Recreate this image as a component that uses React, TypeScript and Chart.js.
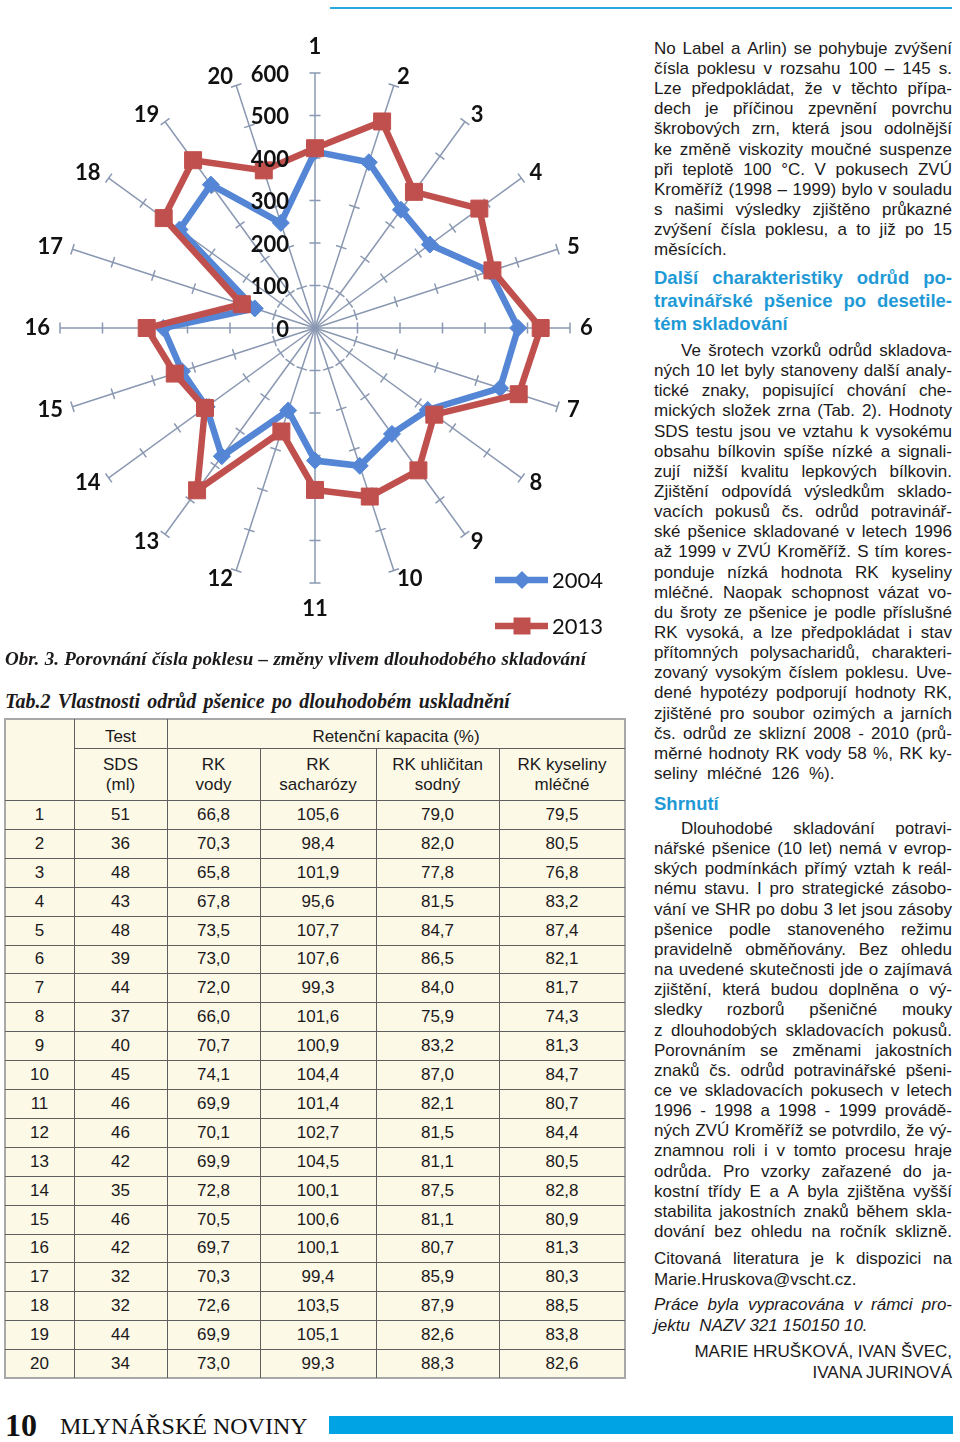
import React, { useEffect, useRef } from "react";
import { Chart, registerables } from "chart.js";

Chart.register(...registerables);

// ---------- chart data ----------
const axisLabels = ["1", "2", "3", "4", "5", "6", "7", "8", "9", "10", "11", "12", "13", "14", "15", "16", "17", "18", "19", "20"];
const series2004 = [415, 410, 344, 334, 432, 478, 458, 328, 308, 341, 312, 204, 373, 316, 329, 357, 149, 394, 417, 260];
const series2013 = [423, 511, 396, 478, 439, 531, 504, 347, 414, 417, 381, 256, 472, 320, 347, 396, 181, 440, 488, 390];
const radialTicks = [0, 100, 200, 300, 400, 500, 600];
const legendLabels = ["2004", "2013"];

// ---------- table data ----------
const varieties = ["1", "2", "3", "4", "5", "6", "7", "8", "9", "10", "11", "12", "13", "14", "15", "16", "17", "18", "19", "20"];
const sdsValues = ["51", "36", "48", "43", "48", "39", "44", "37", "40", "45", "46", "46", "42", "35", "46", "42", "32", "32", "44", "34"];
const rkVody = ["66,8", "70,3", "65,8", "67,8", "73,5", "73,0", "72,0", "66,0", "70,7", "74,1", "69,9", "70,1", "69,9", "72,8", "70,5", "69,7", "70,3", "72,6", "69,9", "73,0"];
const rkSacharozy = ["105,6", "98,4", "101,9", "95,6", "107,7", "107,6", "99,3", "101,6", "100,9", "104,4", "101,4", "102,7", "104,5", "100,1", "100,6", "100,1", "99,4", "103,5", "105,1", "99,3"];
const rkUhlicitan = ["79,0", "82,0", "77,8", "81,5", "84,7", "86,5", "84,0", "75,9", "83,2", "87,0", "82,1", "81,5", "81,1", "87,5", "81,1", "80,7", "85,9", "87,9", "82,6", "88,3"];
const rkKyseliny = ["79,5", "80,5", "76,8", "83,2", "87,4", "82,1", "81,7", "74,3", "81,3", "84,7", "80,7", "84,4", "80,5", "82,8", "80,9", "81,3", "80,3", "88,5", "83,8", "82,6"];

// ---------- text ----------
const paraA = [
  "No Label a Arlin) se pohybuje zvýšení",
  "čísla poklesu v rozsahu 100 – 145 s.",
  "Lze předpokládat, že v těchto přípa-",
  "dech je příčinou zpevnění povrchu",
  "škrobových zrn, která jsou odolnější",
  "ke změně viskozity moučné suspenze",
  "při teplotě 100 °C. V pokusech ZVÚ",
  "Kroměříž (1998 – 1999) bylo v souladu",
  "s našimi výsledky zjištěno průkazné",
  "zvýšení čísla poklesu, a to již po 15",
  "měsících.",
];
const headingB = ["Další charakteristiky odrůd po-", "travinářské pšenice po desetile-", "tém skladování"];
const paraB = [
  "Ve šrotech vzorků odrůd skladova-",
  "ných 10 let byly stanoveny další analy-",
  "tické znaky, popisující chování che-",
  "mických složek zrna (Tab. 2). Hodnoty",
  "SDS testu jsou ve vztahu k vysokému",
  "obsahu bílkovin spíše nízké a signali-",
  "zují nižší kvalitu lepkových bílkovin.",
  "Zjištění odpovídá výsledkům sklado-",
  "vacích pokusů čs. odrůd potravinář-",
  "ské pšenice skladované v letech 1996",
  "až 1999 v ZVÚ Kroměříž. S tím kores-",
  "ponduje nízká hodnota RK kyseliny",
  "mléčné. Naopak schopnost vázat vo-",
  "du šroty ze pšenice je podle příslušné",
  "RK vysoká, a lze předpokládat i stav",
  "přítomných polysacharidů, charakteri-",
  "zovaný vysokým číslem poklesu. Uve-",
  "dené hypotézy podporují hodnoty RK,",
  "zjištěné pro soubor ozimých a jarních",
  "čs. odrůd ze sklizní 2008 - 2010 (prů-",
  "měrné hodnoty RK vody 58 %, RK ky-",
  "seliny  mléčné  126  %).",
];
const paraC = [
  "Dlouhodobé skladování potravi-",
  "nářské pšenice (10 let) nemá v evrop-",
  "ských podmínkách přímý vztah k reál-",
  "nému stavu. I pro strategické zásobo-",
  "vání ve SHR po dobu 3 let jsou zásoby",
  "pšenice podle stanoveného režimu",
  "pravidelně obměňovány. Bez ohledu",
  "na uvedené skutečnosti jde o zajímavá",
  "zjištění, která budou doplněna o vý-",
  "sledky rozborů pšeničné mouky",
  "z dlouhodobých skladovacích pokusů.",
  "Porovnáním se změnami jakostních",
  "znaků čs. odrůd potravinářské pšeni-",
  "ce ve skladovacích pokusech v letech",
  "1996 - 1998 a 1998 - 1999 provádě-",
  "ných ZVÚ Kroměříž se potvrdilo, že vý-",
  "znamnou roli i v tomto procesu hraje",
  "odrůda. Pro vzorky zařazené do ja-",
  "kostní třídy E a A byla zjištěna vyšší",
  "stabilita jakostních znaků během skla-",
  "dování bez ohledu na ročník sklizně.",
];
const paraD = ["Citovaná literatura je k dispozici na", "Marie.Hruskova@vscht.cz."];
const paraE = ["Práce byla vypracována v rámci pro-", "jektu  NAZV 321 150150 10."];
const authors = ["MARIE HRUŠKOVÁ, IVAN ŠVEC,", "IVANA JURINOVÁ"];

const COLOR_2004 = "#5586d6";
const COLOR_2013 = "#c0504d";
const SPOKE = "#8a98b2";
const CHART_FONT = "Lato, 'Open Sans', sans-serif";

const decorPlugin = {
  id: "radarDecor",
  beforeDatasetsDraw(chart: any) {
    const s = chart.scales.r;
    const ctx = chart.ctx;
    ctx.save();
    ctx.strokeStyle = SPOKE;
    ctx.lineWidth = 1.5;
    for (let i = 0; i < axisLabels.length; i++) {
      for (const v of radialTicks) {
        if (v === 0) continue;
        const p = s.getPointPosition(i, s.getDistanceFromCenterForValue(v));
        const nx = -Math.sin(p.angle);
        const ny = Math.cos(p.angle);
        ctx.beginPath();
        ctx.moveTo(p.x - nx * 5.5, p.y - ny * 5.5);
        ctx.lineTo(p.x + nx * 5.5, p.y + ny * 5.5);
        ctx.stroke();
      }
    }
    ctx.restore();
  },
  afterDatasetsDraw(chart: any) {
    const s = chart.scales.r;
    const ctx = chart.ctx;
    ctx.save();
    // radial tick labels
    ctx.fillStyle = "#111";
    ctx.font = `bold 22px ${CHART_FONT}`;
    ctx.textAlign = "right";
    ctx.textBaseline = "middle";
    for (const v of radialTicks) {
      const y = s.yCenter - s.getDistanceFromCenterForValue(v) + 1.5;
      ctx.fillText(String(v), s.xCenter - 26, y);
    }
    // category labels
    ctx.textAlign = "center";
    for (let i = 0; i < axisLabels.length; i++) {
      const a = s.getIndexAngle(i);
      const sin = Math.sin(a);
      const cos = Math.cos(a);
      const end = s.getPointPosition(i, s.drawingArea);
      const w = ctx.measureText(axisLabels[i]).width;
      let dx = 0;
      let dy = 0;
      if (Math.abs(sin) < 0.01) {
        dy = cos > 0 ? -26 : 26;
      } else {
        dx = Math.sign(sin) * (w / 2 + 10 * Math.abs(sin));
        dy = -cos * 9;
      }
      ctx.fillText(axisLabels[i], end.x + dx, end.y + dy);
    }
    // legend
    const items = [
      { label: legendLabels[0], color: COLOR_2004, style: "diamond", y: 580 },
      { label: legendLabels[1], color: COLOR_2013, style: "square", y: 626 },
    ];
    for (const it of items) {
      ctx.strokeStyle = it.color;
      ctx.fillStyle = it.color;
      ctx.lineWidth = 6.5;
      ctx.beginPath();
      ctx.moveTo(495, it.y);
      ctx.lineTo(548, it.y);
      ctx.stroke();
      ctx.beginPath();
      if (it.style === "diamond") {
        ctx.moveTo(522, it.y - 9);
        ctx.lineTo(531, it.y);
        ctx.lineTo(522, it.y + 9);
        ctx.lineTo(513, it.y);
        ctx.closePath();
      } else {
        ctx.rect(513.5, it.y - 8.5, 17, 17);
      }
      ctx.fill();
      ctx.fillStyle = "#111";
      ctx.font = `22px ${CHART_FONT}`;
      ctx.textAlign = "left";
      ctx.fillText(it.label, 552, it.y + 1);
    }
    ctx.restore();
  },
};

function RadarChart() {
  const ref = useRef<HTMLCanvasElement | null>(null);
  useEffect(() => {
    if (!ref.current) return;
    const chart = new Chart(ref.current, {
      type: "radar",
      data: {
        labels: axisLabels,
        datasets: [
          {
            label: legendLabels[0],
            data: series2004,
            borderColor: COLOR_2004,
            backgroundColor: COLOR_2004,
            pointBackgroundColor: COLOR_2004,
            pointBorderColor: COLOR_2004,
            borderWidth: 6.5,
            pointStyle: "rectRot",
            pointRadius: 8.5,
            pointBorderWidth: 1,
            fill: false,
            order: 2,
          },
          {
            label: legendLabels[1],
            data: series2013,
            borderColor: COLOR_2013,
            backgroundColor: COLOR_2013,
            pointBackgroundColor: COLOR_2013,
            pointBorderColor: COLOR_2013,
            borderWidth: 6.5,
            pointStyle: "rect",
            pointRadius: 12,
            pointBorderWidth: 1,
            fill: false,
            order: 1,
          },
        ],
      },
      options: {
        animation: false,
        responsive: false,
        layout: { padding: { left: 60, right: 60, top: 73, bottom: 67 } },
        plugins: { legend: { display: false }, tooltip: { enabled: false } },
        elements: { line: { tension: 0 } },
        scales: {
          r: {
            min: 0,
            max: 600,
            ticks: { display: false, stepSize: 100 },
            grid: { display: false },
            angleLines: { display: true, color: SPOKE, lineWidth: 1.5 },
            pointLabels: { display: false },
          },
        },
      } as any,
      plugins: [decorPlugin],
    });
    return () => chart.destroy();
  }, []);
  return (
    <canvas
      ref={ref}
      width={630}
      height={650}
      style={{ position: "absolute", left: 0, top: 0, width: 630, height: 650 }}
    />
  );
}

const SANS = "'Liberation Sans', Arial, sans-serif";
const SERIF = "'Liberation Serif', 'Times New Roman', serif";
const TEXT_COLOR = "#1c1a1b";
const BLUE = "#1f9ad6";

function TextLine(props: {
  text: string;
  y: number;
  left: number;
  width: number;
  justify: boolean;
  lh?: number;
  style?: React.CSSProperties;
}) {
  const { text, y, left, width, justify, style } = props;
  const lh = props.lh ?? 20;
  const words = text.split(" ");
  return (
    <div
      style={{
        position: "absolute",
        left,
        top: y - lh / 2,
        width,
        height: lh,
        lineHeight: `${lh}px`,
        display: "flex",
        justifyContent: justify ? "space-between" : "flex-start",
        whiteSpace: "pre",
        ...style,
      }}
    >
      {justify ? words.map((w, i) => <span key={i}>{w}</span>) : <span>{text}</span>}
    </div>
  );
}

function Paragraph(props: {
  lines: string[];
  y0: number;
  pitch: number;
  indent?: number;
  lastJustified?: boolean;
  lh?: number;
  style?: React.CSSProperties;
}) {
  const { lines, y0, pitch, indent = 0, lastJustified = false, style, lh } = props;
  return (
    <>
      {lines.map((t, i) => {
        const last = i === lines.length - 1;
        const left = 654 + (i === 0 ? indent : 0);
        return (
          <TextLine
            key={i}
            text={t}
            y={y0 + i * pitch}
            left={left}
            width={952 - left}
            justify={!last || lastJustified}
            lh={lh}
            style={style}
          />
        );
      })}
    </>
  );
}

const colEdges = [5, 74, 167, 260, 376, 499, 625];
const TABLE_TOP = 719;
const HEAD1_BOTTOM = 748;
const HEAD_BOTTOM = 800;
const ROW_H = 28.9;
const TABLE_BOTTOM = HEAD_BOTTOM + ROW_H * 20;

function DataTable() {
  const line = "#5f5f5f";
  const cellStyle = (x0: number, x1: number, yc: number, h: number): React.CSSProperties => ({
    position: "absolute",
    left: x0,
    width: x1 - x0,
    top: yc - h / 2,
    height: h,
    lineHeight: "20px",
    textAlign: "center",
    display: "flex",
    flexDirection: "column",
    justifyContent: "center",
    alignItems: "center",
    fontFamily: SANS,
    fontSize: 17,
    color: TEXT_COLOR,
  });
  const cols = [varieties, sdsValues, rkVody, rkSacharozy, rkUhlicitan, rkKyseliny];
  const heads2 = [
    ["SDS", "(ml)"],
    ["RK", "vody"],
    ["RK", "sacharózy"],
    ["RK uhličitan", "sodný"],
    ["RK kyseliny", "mléčné"],
  ];
  const els: React.ReactNode[] = [];
  els.push(
    <div
      key="bg"
      style={{
        position: "absolute",
        left: colEdges[0] - 1,
        top: TABLE_TOP - 1,
        width: colEdges[6] - colEdges[0] + 2,
        height: TABLE_BOTTOM - TABLE_TOP + 2,
        background: "#fdf9e7",
        border: "2px solid #a8a8a8",
        boxSizing: "border-box",
      }}
    />
  );
  colEdges.slice(1, 6).forEach((x, i) => {
    const top = i < 2 ? TABLE_TOP : HEAD1_BOTTOM;
    els.push(
      <div key={"v" + i} style={{ position: "absolute", left: x, top, width: 1, height: TABLE_BOTTOM - top, background: line }} />
    );
  });
  els.push(
    <div key="h1" style={{ position: "absolute", left: colEdges[1], top: HEAD1_BOTTOM, width: colEdges[6] - colEdges[1], height: 1, background: line }} />
  );
  for (let r = 0; r < 20; r++) {
    els.push(
      <div key={"h" + (r + 2)} style={{ position: "absolute", left: colEdges[0], top: HEAD_BOTTOM + r * ROW_H, width: colEdges[6] - colEdges[0], height: 1, background: line }} />
    );
  }
  els.push(<div key="t1" style={cellStyle(colEdges[1], colEdges[2], 737, 26)}>Test</div>);
  els.push(<div key="t2" style={cellStyle(colEdges[2], colEdges[6], 737, 26)}>Retenční kapacita (%)</div>);
  heads2.forEach((h, i) => {
    els.push(
      <div key={"hh" + i} style={cellStyle(colEdges[i + 1], colEdges[i + 2], 775, 48)}>
        <span>{h[0]}</span>
        <span>{h[1]}</span>
      </div>
    );
  });
  for (let r = 0; r < 20; r++) {
    const yc = HEAD_BOTTOM + r * ROW_H + ROW_H / 2 + 0.5;
    cols.forEach((c, ci) => {
      els.push(
        <div key={`c${r}_${ci}`} style={cellStyle(colEdges[ci], colEdges[ci + 1], yc, 24)}>
          {c[r]}
        </div>
      );
    });
  }
  return <>{els}</>;
}

export default function App() {
  const bodyText: React.CSSProperties = { fontFamily: SANS, fontSize: 17, color: TEXT_COLOR };
  const headText: React.CSSProperties = { fontFamily: SANS, fontSize: 18.5, fontWeight: 700, color: BLUE };
  return (
    <div
      style={{
        position: "absolute",
        left: 0,
        top: 0,
        width: 960,
        height: 1442,
        background: "#fff",
        overflow: "hidden",
      }}
    >
      <div style={{ position: "absolute", left: 330, top: 7, width: 622, height: 2, background: "#2aa7dc" }} />

      <RadarChart />

      <TextLine
        text="Obr. 3. Porovnání čísla poklesu – změny vlivem dlouhodobého skladování"
        y={659}
        left={5}
        width={581}
        justify={true}
        lh={22}
        style={{ fontFamily: SERIF, fontSize: 19, fontWeight: 700, fontStyle: "italic", color: TEXT_COLOR }}
      />
      <TextLine
        text="Tab.2 Vlastnosti odrůd pšenice po dlouhodobém uskladnění"
        y={701}
        left={5}
        width={505}
        justify={true}
        lh={22}
        style={{ fontFamily: SERIF, fontSize: 20, fontWeight: 700, fontStyle: "italic", color: TEXT_COLOR }}
      />

      <DataTable />

      <Paragraph lines={paraA} y0={49} pitch={20.1} style={bodyText} />
      <Paragraph lines={headingB} y0={277} pitch={23} lh={23} style={headText} />
      <Paragraph lines={paraB} y0={351} pitch={20.14} indent={27} style={bodyText} />
      <TextLine text="Shrnutí" y={803} left={654} width={298} justify={false} lh={23} style={headText} />
      <Paragraph lines={paraC} y0={829} pitch={20.15} indent={27} lastJustified={true} style={bodyText} />
      <Paragraph lines={paraD} y0={1259} pitch={20.5} style={bodyText} />
      <Paragraph lines={paraE} y0={1305} pitch={20.5} style={{ ...bodyText, fontStyle: "italic" }} />
      {authors.map((a, i) => (
        <div
          key={"au" + i}
          style={{
            position: "absolute",
            left: 640,
            width: 312,
            top: 1352 + i * 21 - 10,
            height: 20,
            lineHeight: "20px",
            textAlign: "right",
            whiteSpace: "pre",
            ...bodyText,
          }}
        >
          {a}
        </div>
      ))}

      <div
        style={{
          position: "absolute",
          left: 5,
          top: 1425 - 20,
          height: 40,
          lineHeight: "40px",
          fontFamily: SERIF,
          fontWeight: 700,
          fontSize: 32,
          color: "#111",
        }}
      >
        10
      </div>
      <div
        style={{
          position: "absolute",
          left: 60,
          top: 1426 - 16,
          height: 32,
          lineHeight: "32px",
          fontFamily: SERIF,
          fontSize: 24,
          color: "#111",
          whiteSpace: "pre",
        }}
      >
        MLYNÁŘSKÉ NOVINY
      </div>
      <div style={{ position: "absolute", left: 329, top: 1416, width: 624, height: 18, background: "#00a4e4" }} />
    </div>
  );
}
